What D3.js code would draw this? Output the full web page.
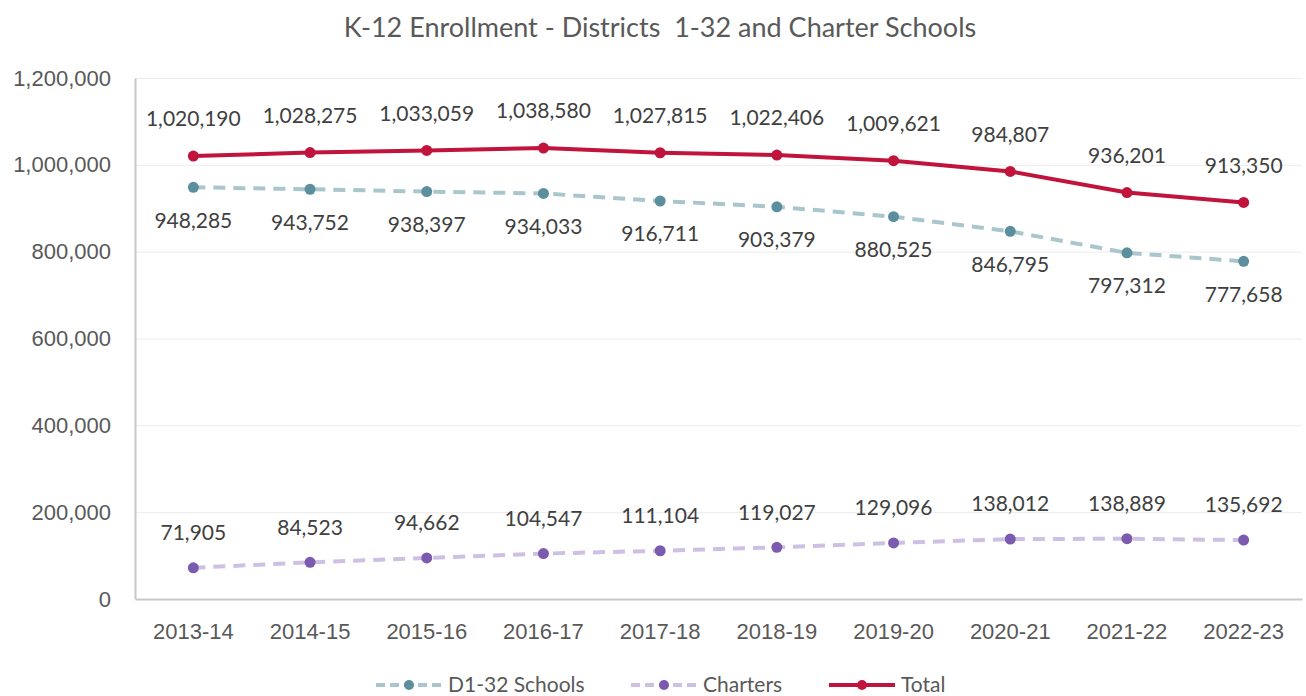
<!DOCTYPE html>
<html>
<head>
<meta charset="utf-8">
<script src="https://cdn.jsdelivr.net/npm/d3@7"></script>
<style>
  body { margin: 0; background: #fff; }
  svg { font-family: "Lato", "Open Sans", sans-serif; }
  .axis path, .axis line { stroke: #c8c8c8; }
  .axis text { fill: #595959; font-size: 22px; }
  .grid line { stroke: #ececec; }
  .grid path { stroke: none; }
</style>
</head>
<body>
<svg class="chart" width="1306" height="696"></svg>
<script>
const years = ["2013-14","2014-15","2015-16","2016-17","2017-18","2018-19","2019-20","2020-21","2021-22","2022-23"];
const d132 = [948285, 943752, 938397, 934033, 916711, 903379, 880525, 846795, 797312, 777658];
const charters = [71905, 84523, 94662, 104547, 111104, 119027, 129096, 138012, 138889, 135692];
const total = [1020190, 1028275, 1033059, 1038580, 1027815, 1022406, 1009621, 984807, 936201, 913350];
const yTicks = [0, 200000, 400000, 600000, 800000, 1000000, 1200000];

const series = [
  { name: "D1-32 Schools", values: d132, line: "#a9c6cc", dot: "#5b8f9d", dash: "12,8", labelDy: 33 },
  { name: "Charters", values: charters, line: "#cdc0e2", dot: "#7a5bb0", dash: "12,8", labelDy: -35 },
  { name: "Total", values: total, line: "#c0143c", dot: "#c0143c", dash: null, labelDy: -37 }
];

const margin = { top: 78, right: 4, bottom: 97, left: 135 };
const width = 1306 - margin.left - margin.right;
const height = 696 - margin.top - margin.bottom;

const svg = d3.select("svg.chart");
const g = svg.append("g").attr("transform", `translate(${margin.left},${margin.top})`);

const x = d3.scaleBand().domain(years).range([0, width]);
const y = d3.scaleLinear().domain([0, 1200000]).range([height, 0]);
const fmt = d3.format(",");

// title
svg.append("text")
  .text("K-12 Enrollment - Districts  1-32 and Charter Schools")
  .attr("x", 660).attr("y", 37)
  .style("text-anchor", "middle")
  .style("font-size", "27px")
  .style("white-space", "pre")
  .attr("xml:space", "preserve")
  .style("fill", "#595959");

// gridlines
g.append("g").attr("class", "grid")
  .call(d3.axisLeft(y).tickValues(yTicks.slice(1)).tickSize(-width).tickFormat(""));

// axes
const yAxis = g.append("g").attr("class", "axis y")
  .call(d3.axisLeft(y).tickValues(yTicks).tickSize(0).tickPadding(24).tickFormat(fmt));
yAxis.select(".domain").attr("stroke-width", 2);

const xAxis = g.append("g").attr("class", "axis x")
  .attr("transform", `translate(0,${height})`)
  .call(d3.axisBottom(x).tickSize(0).tickPadding(24));
xAxis.select(".domain").attr("stroke-width", 2);

const line = d3.line()
  .x((d, i) => x(years[i]) + x.bandwidth() / 2)
  .y(d => y(d));

series.forEach(s => {
  g.append("path")
    .datum(s.values)
    .attr("fill", "none")
    .attr("stroke", s.line)
    .attr("stroke-width", 4)
    .attr("stroke-dasharray", s.dash)
    .attr("d", line);

  g.selectAll(null)
    .data(s.values)
    .enter()
    .append("circle")
      .attr("cx", (d, i) => x(years[i]) + x.bandwidth() / 2)
      .attr("cy", d => y(d))
      .attr("r", 5.5)
      .attr("fill", s.dot);

  g.selectAll(null)
    .data(s.values)
    .enter()
    .append("text")
      .attr("x", (d, i) => x(years[i]) + x.bandwidth() / 2)
      .attr("y", d => y(d) + s.labelDy)
      .attr("dy", "0.35em")
      .text(d => fmt(d))
      .style("text-anchor", "middle")
      .style("font-size", "21px")
      .style("fill", "#404040");
});

// legend
const legendItems = [
  { s: series[0], x: 376, label: "D1-32 Schools" },
  { s: series[1], x: 631, label: "Charters" },
  { s: series[2], x: 829, label: "Total" }
];
const legend = svg.append("g").attr("transform", "translate(0,685)");
legendItems.forEach(it => {
  const lg = legend.append("g").attr("transform", `translate(${it.x},0)`);
  lg.append("line")
    .attr("x1", 0).attr("x2", 66).attr("y1", 0).attr("y2", 0)
    .attr("stroke", it.s.line).attr("stroke-width", 4)
    .attr("stroke-dasharray", it.s.dash ? "9,5" : null);
  lg.append("circle").attr("cx", 33).attr("cy", 0).attr("r", 5).attr("fill", it.s.dot);
  lg.append("text")
    .attr("x", 72).attr("y", 0).attr("dy", "0.35em")
    .text(it.label)
    .style("font-size", "21px")
    .style("fill", "#595959");
});
</script>
</body>
</html>
